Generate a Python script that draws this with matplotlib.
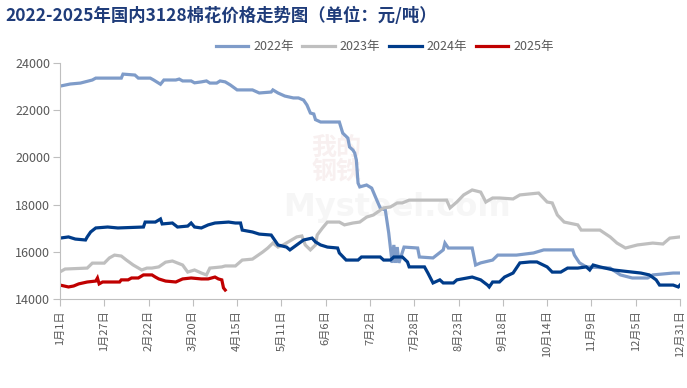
"""
2022-2025 domestic 3128 cotton price trend
"""

import numpy as np
import matplotlib.pyplot as plt

plt.rcParams['font.family'] = ['Noto Sans CJK SC', 'DejaVu Sans']

# day of year (0 = Jan 1) and price, yuan/ton
days_2022 = [0, 6, 12, 19, 21, 36, 37, 44, 46, 53, 55, 59, 61, 68, 70, 72, 77, 79, 83, 86, 88, 92,
             94, 97, 100, 104, 113, 117, 124, 125, 128, 132, 137, 140, 143, 145, 147, 149, 150, 153,
             164, 166, 169, 170, 172, 173, 174, 175, 176, 180, 183, 186, 188, 191, 193, 195, 196,
             197, 198, 199, 202, 210, 211, 219, 225, 226, 228, 242, 244, 247, 254, 257, 268, 278,
             284, 301, 302, 305, 309, 323, 329, 336, 345, 348, 354, 360, 364]
vals_2022 = [23020, 23110, 23150, 23280, 23360, 23360, 23530, 23490, 23360, 23360, 23280, 23100,
             23280, 23280, 23320, 23240, 23240, 23160, 23200, 23240, 23150, 23150, 23240, 23200,
             23070, 22860, 22860, 22730, 22770, 22860, 22730, 22600, 22520, 22520, 22430, 22220,
             21880, 21840, 21600, 21500, 21500, 21030, 20820, 20440, 20310, 20190, 19890, 18910,
             18750, 18830, 18700, 18190, 17860, 17770, 16800, 15530, 16290, 15530, 16200, 15530,
             16200, 16160, 15780, 15740, 16080, 16370, 16160, 16160, 15440, 15530, 15650, 15860,
             15860, 15950, 16080, 16080, 15860, 15530, 15360, 15310, 15020, 14890, 14890, 15020,
             15060, 15100, 15100]

days_2023 = [0, 3, 16, 19, 26, 29, 32, 36, 39, 43, 48, 51, 54, 58, 62, 66, 72, 75, 79, 83, 86, 88,
             95, 97, 103, 107, 113, 119, 122, 125, 128, 131, 139, 142, 144, 147, 150, 151, 154, 157,
             164, 167, 172, 176, 180, 184, 190, 194, 198, 201, 205, 215, 227, 229, 233, 237, 242,
             247, 250, 254, 258, 266, 270, 281, 286, 289, 292, 296, 304, 306, 317, 323, 327, 332,
             339, 348, 354, 358, 364]
vals_2023 = [15150, 15270, 15310, 15520, 15520, 15740, 15860, 15820, 15650, 15440, 15230, 15310,
             15310, 15360, 15560, 15610, 15440, 15140, 15230, 15100, 15020, 15310, 15360, 15400,
             15400, 15650, 15690, 15990, 16160, 16370, 16200, 16290, 16630, 16670, 16290, 16080,
             16290, 16710, 17000, 17260, 17260, 17140, 17220, 17260, 17470, 17560, 17860, 17900,
             18070, 18070, 18190, 18190, 18190, 17860, 18110, 18410, 18620, 18530, 18110, 18280,
             18280, 18240, 18410, 18490, 18110, 18070, 17560, 17260, 17140, 16920, 16920, 16630,
             16370, 16160, 16290, 16370, 16330, 16580, 16630]

days_2024 = [0, 5, 9, 15, 16, 18, 21, 28, 34, 49, 50, 56, 59, 60, 66, 69, 75, 77, 79, 83, 87, 91,
             99, 103, 106, 107, 113, 117, 124, 128, 133, 135, 139, 143, 148, 150, 153, 157, 163,
             164, 168, 175, 177, 188, 190, 194, 196, 201, 204, 205, 214, 216, 219, 223, 225, 231,
             233, 239, 242, 247, 251, 252, 254, 258, 261, 266, 270, 276, 280, 286, 289, 294, 298,
             304, 309, 311, 313, 317, 325, 336, 341, 346, 350, 352, 360, 363, 364]
vals_2024 = [16580, 16630, 16540, 16500, 16630, 16840, 17010, 17050, 17010, 17050, 17260, 17260,
             17390, 17180, 17220, 17050, 17090, 17220, 17050, 17010, 17140, 17220, 17260, 17220,
             17220, 16920, 16840, 16750, 16710, 16290, 16200, 16080, 16290, 16500, 16580, 16420,
             16290, 16200, 16160, 15950, 15650, 15650, 15780, 15780, 15650, 15650, 15780, 15780,
             15570, 15360, 15360, 15100, 14680, 14810, 14680, 14680, 14810, 14890, 14930, 14810,
             14590, 14510, 14720, 14720, 14930, 15100, 15530, 15570, 15570, 15360, 15140, 15140,
             15310, 15310, 15360, 15230, 15440, 15360, 15230, 15140, 15100, 15020, 14810, 14590,
             14590, 14510, 14590]

days_2025 = [0, 5, 8, 11, 16, 21, 22, 23, 25, 35, 36, 40, 42, 46, 49, 54, 56, 58, 62, 68, 72, 77,
             83, 87, 91, 93, 95, 96, 97]
vals_2025 = [14590, 14510, 14550, 14640, 14720, 14760, 14890, 14640, 14720, 14720, 14810, 14810,
             14890, 14890, 15020, 15020, 14930, 14850, 14760, 14720, 14850, 14890, 14850, 14850,
             14930, 14850, 14810, 14470, 14380]

tick_days = np.arange(0, 365, 26)
tick_labels = ['1月1日', '1月27日', '2月22日', '3月20日', '4月15日', '5月11日', '6月6日',
               '7月2日', '7月28日', '8月23日', '9月18日', '10月14日', '11月9日', '12月5日',
               '12月31日']

series = [
    ('2022年', days_2022, vals_2022, '#7f9cc9'),
    ('2023年', days_2023, vals_2023, '#bfbfbf'),
    ('2024年', days_2024, vals_2024, '#003c8a'),
    ('2025年', days_2025, vals_2025, '#c00000'),
]

fig = plt.figure(figsize=(6.87, 3.88), dpi=100)
ax = fig.add_axes([0.0873, 0.2294, 0.9025, 0.6082])

# faint watermark
ax.text(0.36, 0.35, 'Mysteel.com', transform=ax.transAxes, fontsize=23,
        fontweight='bold', color='#f6f6f6', family='DejaVu Sans', zorder=0)
ax.text(0.405, 0.51, '我的\n钢铁', transform=ax.transAxes, fontsize=18,
        fontweight='bold', color='#f8f0f0', linespacing=1.0, zorder=0)

for name, d, v, c in series:
    ax.plot(d, v, color=c, lw=2.3, label=name, solid_joinstyle='miter')

ax.set_xlim(0, 364)
ax.set_ylim(14000, 24000)
ax.set_yticks(np.arange(14000, 24001, 2000))
ax.set_xticks(tick_days)
ax.set_xticklabels(tick_labels, rotation=90, fontsize=8, color='#595959')
ax.tick_params(axis='y', labelsize=9, labelcolor='#595959', color='#bfbfbf',
               length=5, pad=2)
ax.tick_params(axis='x', color='#bfbfbf', length=5, pad=3)

for s in ['top', 'right']:
    ax.spines[s].set_visible(False)
for s in ['left', 'bottom']:
    ax.spines[s].set_color('#bfbfbf')

fig.text(0.008, 0.958, '2022-2025年国内3128棉花价格走势图（单位：元/吨）',
         fontsize=12.5, fontweight='bold', color='#1f3c7a', va='center')

leg = fig.legend(loc='center', bbox_to_anchor=(0.56, 0.879), ncol=4, frameon=False,
                 fontsize=9, handlelength=2.6, columnspacing=0.7, handletextpad=0.4)
for t in leg.get_texts():
    t.set_color('#595959')

plt.savefig('out.png', dpi=100)
